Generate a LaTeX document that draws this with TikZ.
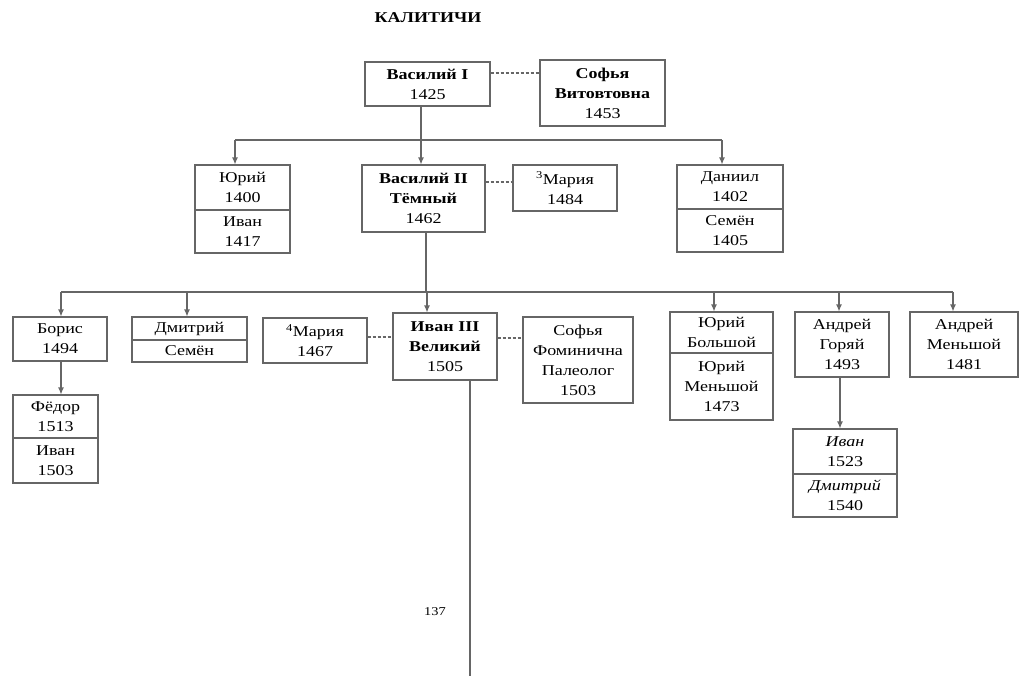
\documentclass[tikz,border=0pt]{standalone}
\usepackage{fontspec}
\setmainfont{Liberation Serif}[FakeStretch=1.2]
\usetikzlibrary{arrows.meta}
\tikzset{
  box/.style={draw=black!60, line width=1.1pt, inner sep=0pt, align=center,
    font=\fontsize{15}{20}\selectfont},
  conn/.style={draw=black!60, line width=1.1pt},
  arr/.style={conn, -{Latex[length=7pt,width=6pt]}},
  spouse/.style={draw=black!60, line width=1.1pt, dash pattern=on 3pt off 2pt},
}
\begin{document}
\begin{tikzpicture}[x=1pt,y=-1pt]
\useasboundingbox (0,0) rectangle (1022,680);
% title
\node[font=\fontsize{15}{18}\selectfont\bfseries] (title) at (428,18) {КАЛИТИЧИ};
% generation 1
\node[box, minimum width=125pt, minimum height=44pt] (vas1) at (427.5,84) {\textbf{Василий I}\\1425};
\node[box, minimum width=125pt, minimum height=66pt] (sofv) at (602.5,93) {\textbf{Софья}\\\textbf{Витовтовна}\\1453};
% generation 2
\node[box, minimum width=95pt, minimum height=45pt] (yurT) at (242.5,187.5) {Юрий\\1400};
\node[box, minimum width=95pt, minimum height=43pt] (yurB) at (242.5,231.5) {Иван\\1417};
\node[box, minimum width=123pt, minimum height=67pt] (vas2) at (423.5,198.5) {\textbf{Василий II}\\\textbf{Тёмный}\\1462};
\node[box, minimum width=104pt, minimum height=46pt] (mar3) at (565,188) {\textsuperscript{3}Мария\\1484};
\node[box, minimum width=106pt, minimum height=44pt] (danT) at (730,187) {Даниил\\1402};
\node[box, minimum width=106pt, minimum height=43pt] (danB) at (730,230.5) {Семён\\1405};
% generation 3
\node[box, minimum width=94pt, minimum height=44pt] (bor) at (60,339) {Борис\\1494};
\node[box, minimum width=85pt, minimum height=43pt] (fedT) at (55.5,416.5) {Фёдор\\1513};
\node[box, minimum width=85pt, minimum height=45pt] (fedB) at (55.5,460.5) {Иван\\1503};
\node[box, minimum width=115pt, minimum height=23pt] (dmiT) at (189.5,328.5) {Дмитрий};
\node[box, minimum width=115pt, minimum height=22pt] (dmiB) at (189.5,351) {Семён};
\node[box, minimum width=104pt, minimum height=45pt] (mar4) at (315,340.5) {\textsuperscript{4}Мария\\1467};
\node[box, minimum width=104pt, minimum height=67pt] (iv3) at (445,346.5) {\textbf{Иван III}\\\textbf{Великий}\\1505};
\node[box, minimum width=110pt, minimum height=86pt] (sofF) at (578,360) {Софья\\Фоминична\\Палеолог\\1503};
\node[box, minimum width=103pt, minimum height=41pt] (yubT) at (721.5,332.5) {Юрий\\Большой};
\node[box, minimum width=103pt, minimum height=67pt] (yubB) at (721.5,386.5) {Юрий\\Меньшой\\1473};
\node[box, minimum width=94pt, minimum height=65pt] (andG) at (842,344.5) {Андрей\\Горяй\\1493};
\node[box, minimum width=108pt, minimum height=65pt] (andM) at (964,344.5) {Андрей\\Меньшой\\1481};
\node[box, minimum width=104pt, minimum height=45pt] (ivaT) at (845,451.5) {\textit{Иван}\\1523};
\node[box, minimum width=104pt, minimum height=43pt] (ivaB) at (845,495.5) {\textit{Дмитрий}\\1540};
% page number
\node[font=\fontsize{12}{14}\selectfont] (pg) at (435,612) {137};
% spouse links
\draw[spouse] (vas1.east |- 0,73) -- (sofv.west |- 0,73);
\draw[spouse] (vas2.east |- 0,182) -- (mar3.west |- 0,182);
\draw[spouse] (mar4.east |- 0,337) -- (iv3.west |- 0,337);
\draw[spouse] (iv3.east |- 0,338) -- (sofF.west |- 0,338);
% bus 1
\coordinate (b1a) at (421,106);
\coordinate (b1L) at (235,140);
\coordinate (b1M) at (421,140);
\coordinate (b1R) at (722,140);
\draw[conn] (b1a) -- (b1M);
\draw[conn] (b1L) -- (b1R);
\draw[arr] (b1L) -- (b1L |- yurT.north);
\draw[arr] (b1M) -- (b1M |- vas2.north);
\draw[arr] (b1R) -- (b1R |- danT.north);
% bus 2
\coordinate (b2a) at (426,232);
\coordinate (b2M) at (426,292);
\coordinate (b2L) at (61,292);
\coordinate (b2R) at (953,292);
\coordinate (b2d) at (187,292);
\coordinate (b2i) at (427,292);
\coordinate (b2y) at (714,292);
\coordinate (b2g) at (839,292);
\draw[conn] (b2a) -- (b2M);
\draw[conn] (b2L) -- (b2R);
\draw[arr] (b2L) -- (b2L |- bor.north);
\draw[arr] (b2d) -- (b2d |- dmiT.north);
\draw[arr] (b2i) -- (b2i |- iv3.north);
\draw[arr] (b2y) -- (b2y |- yubT.north);
\draw[arr] (b2g) -- (b2g |- andG.north);
\draw[arr] (b2R) -- (b2R |- andM.north);
% descendants
\coordinate (borS) at (61,361);
\draw[arr] (borS) -- (borS |- fedT.north);
\coordinate (andS) at (840,377);
\draw[arr] (andS) -- (andS |- ivaT.north);
\coordinate (ivS) at (470,380);
\coordinate (ivE) at (470,676);
\draw[conn] (ivS) -- (ivE);
\end{tikzpicture}
\end{document}
